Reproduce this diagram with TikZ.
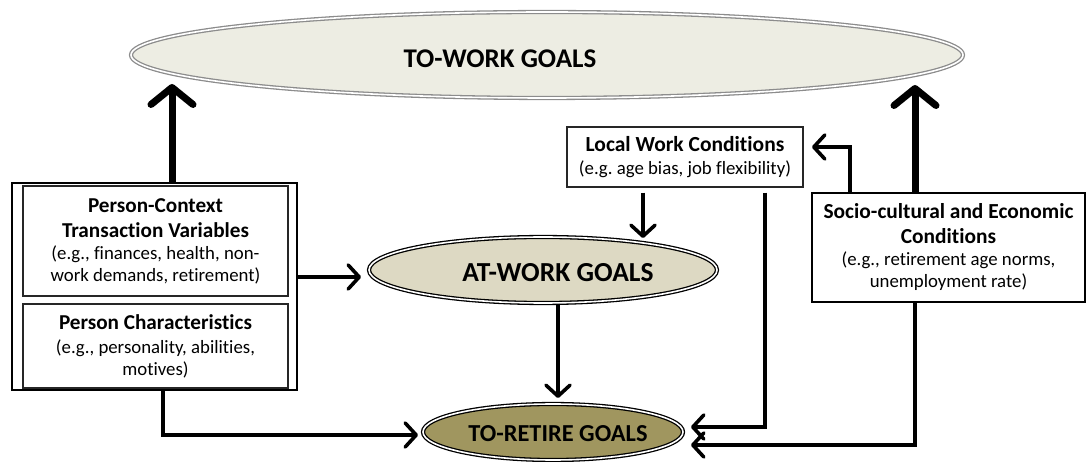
\documentclass[tikz,border=0pt]{standalone}
\usepackage{fontspec}
\setmainfont{Carlito}[Ligatures={NoCommon}]
\usetikzlibrary{shapes.geometric,arrows.meta}
\definecolor{toworkfill}{HTML}{EDEDE3}
\definecolor{atworkfill}{HTML}{DDD9C3}
\definecolor{retirefill}{HTML}{A0965F}
\definecolor{grayline}{HTML}{8C8C8C}
\frenchspacing
\begin{document}
\begin{tikzpicture}[x=1pt,y=-1pt,
  conn/.style={line width=3.6pt, -{Straight Barb[length=11pt,width=24pt,line width=3.6pt,round]}},
  bigconn/.style={line width=7pt, -{Straight Barb[length=17pt,width=42pt,line width=7pt,round]}},
  infobox/.style={draw=black!85, line width=1.3pt, fill=white, inner sep=0pt, align=center,
    font=\fontsize{18.8}{22}\selectfont},
  goal/.style={ellipse, inner sep=0pt, double=white, double distance=1.6pt, line width=1.3pt},
  goaltext/.style={inner sep=0pt, font=\bfseries},
]
\useasboundingbox (0,0) rectangle (1088,462);

% ellipses
\node[goal, draw=grayline, fill=toworkfill, minimum width=832pt, minimum height=86pt] (tw) at (547,55) {};
\node[goaltext, font=\bfseries\fontsize{27}{30}\selectfont] (twt) at (500,59) {TO-WORK GOALS};
\node[goal, draw=black, fill=atworkfill, minimum width=348pt, minimum height=66pt] (aw) at (543,270) {};
\node[goaltext, font=\bfseries\fontsize{27.5}{30}\selectfont] (awt) at (558,273) {AT-WORK GOALS};
\node[goal, draw=black, fill=retirefill, minimum width=260pt, minimum height=56pt] (tr) at (553,432) {};
\node[goaltext, font=\bfseries\fontsize{24.4}{28}\selectfont] (trt) at (558,434) {TO-RETIRE GOALS};

% left composite box
\node[draw=black, line width=2.6pt, minimum width=285pt, minimum height=207pt, inner sep=0pt]
  (outer) at (154.5,286.5) {};
\node[infobox, minimum width=265pt, minimum height=110pt] (pc) at (155.5,241)
  {\textbf{\fontsize{21.2}{26}\selectfont Person-Context}\\[3pt]
   \textbf{\fontsize{21.2}{26}\selectfont Transaction Variables}\\
   (e.g., finances, health, non-\\work demands, retirement)};
\node[infobox, minimum width=265pt, minimum height=84pt] (pch) at (155.5,346)
  {\textbf{\fontsize{21.2}{26}\selectfont Person Characteristics}\\[2pt]
   (e.g., personality, abilities,\\motives)};

% local work conditions
\node[infobox, minimum width=236pt, minimum height=60pt] (lwc) at (685,157)
  {\textbf{\fontsize{21.5}{26}\selectfont Local Work Conditions}\\[1pt]
   (e.g. age bias, job flexibility)};

% socio-cultural
\node[infobox, draw=black, line width=1.8pt, minimum width=273pt, minimum height=109pt] (sc) at (948.5,247.5)
  {\textbf{\fontsize{21.4}{26}\selectfont Socio-cultural and Economic}\\[3pt]
   \textbf{\fontsize{21.4}{26}\selectfont Conditions}\\
   (e.g., retirement age norms,\\unemployment rate)};

% coordinates for connector ends
\coordinate (a1) at (172,84);
\coordinate (a2) at (915,85);
\coordinate (a3) at (361,277);
\coordinate (a4) at (643,238);
\coordinate (a5) at (558,398);
\coordinate (b6) at (163,435);
\coordinate (a6) at (418,435);
\coordinate (b7) at (765,427);
\coordinate (a7) at (691,427);
\coordinate (b8) at (915,445);
\coordinate (a8) at (691,445);
\coordinate (b9) at (850,147);
\coordinate (a9) at (812,147);

% connectors
\draw[bigconn] (outer.north -| a1) -- (a1);
\draw[bigconn] (sc.north -| a2) -- (a2);
\draw[conn] (outer.east |- a3) -- (a3);
\draw[conn, shorten <=5pt] (lwc.south -| a4) -- (a4);
\draw[conn] (aw.south -| a5) -- (a5);
\draw[conn] (outer.south -| b6) -- (b6) -- (a6);
\draw[conn, shorten <=5pt] (lwc.south -| b7) -- (b7) -- (a7);
\draw[conn] (sc.south -| b8) -- (b8) -- (a8);
\draw[conn] (sc.north -| b9) -- (b9) -- (a9);
\end{tikzpicture}
\end{document}
